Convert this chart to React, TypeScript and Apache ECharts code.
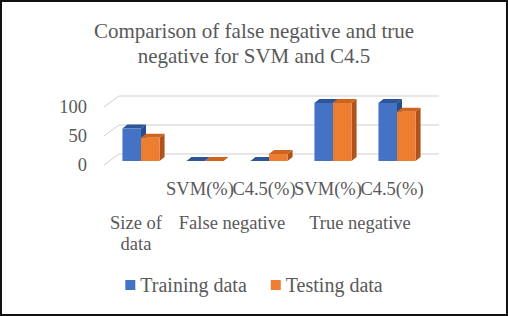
import React, { useEffect, useRef } from "react";
import * as echarts from "echarts";

const categories = ["", "SVM(%)", "C4.5(%)", "SVM(%)", "C4.5(%)"];
const groupLabels = ["Size of data", "False negative", "True negative"];
const groupSpans = [1, 2, 2];
const trainingData = [56, 0, 0, 100, 100];
const testingData = [40, 0, 12, 100, 85];
const yTicks = [0, 50, 100];
const seriesNames = ["Training data", "Testing data"];

const FONT = "'Liberation Serif', 'Times New Roman', serif";
const TEXT = "#595959";
const WALL_DX = 15;
const WALL_DY = -11;
const BAR_SHIFT_X = 5;
const BAR_SHIFT_Y = -4;
const BAR_DX = 5;
const BAR_DY = -4;

const palettes = [
  { front: "#4472C4", top: "#2E5597", side: "#2A4E8C" },
  { front: "#ED7D31", top: "#CF6420", side: "#B0521A" },
];

function barRenderer(slot: number) {
  const pal = palettes[slot];
  return (params: any, api: any) => {
    const idx = api.value(0);
    const val = api.value(1);
    const base = api.coord([idx, 0]);
    const top = api.coord([idx, val]);
    const band = api.size([1, 0])[0];
    const w = band * 0.29;
    const cx = base[0] + BAR_SHIFT_X;
    const x0 = slot === 0 ? cx - w : cx;
    const x1 = x0 + w;
    const yb = base[1] + BAR_SHIFT_Y;
    const yt = top[1] + BAR_SHIFT_Y;
    return {
      type: "group",
      children: [
        {
          type: "polygon",
          shape: { points: [[x1, yb], [x1 + BAR_DX, yb + BAR_DY], [x1 + BAR_DX, yt + BAR_DY], [x1, yt]] },
          style: { fill: pal.side },
        },
        {
          type: "polygon",
          shape: { points: [[x0, yt], [x1, yt], [x1 + BAR_DX, yt + BAR_DY], [x0 + BAR_DX, yt + BAR_DY]] },
          style: { fill: pal.top },
        },
        {
          type: "rect",
          shape: { x: x0, y: yt, width: w, height: Math.max(yb - yt, 0) },
          style: { fill: pal.front },
        },
      ],
    };
  };
}

function wallRenderer(params: any, api: any) {
  const cs = params.coordSys;
  const y = api.coord([0, api.value(1)])[1];
  const x = cs.x;
  return {
    type: "polyline",
    shape: {
      points: [
        [x, y],
        [x + WALL_DX, y + WALL_DY],
        [x + cs.width + WALL_DX, y + WALL_DY],
      ],
    },
    style: { stroke: "#CFCFCF", lineWidth: 1, fill: null },
  };
}

const groupCenters: number[] = [];
{
  let start = 0;
  groupSpans.forEach((s) => {
    groupCenters.push(start + s / 2);
    start += s;
  });
}

function wrapGroup(label: string, span: number) {
  if (span > 1) return label;
  const words = label.split(" ");
  const lines: string[] = [];
  for (let i = 0; i < words.length; i += 2) lines.push(words.slice(i, i + 2).join(" "));
  return lines.join("\n");
}

export default function App() {
  const ref = useRef<HTMLDivElement>(null);
  useEffect(() => {
    if (!ref.current) return;
    const chart = echarts.init(ref.current, null, { renderer: "svg" });
    chart.setOption({
      animation: false,
      backgroundColor: "#FFFFFF",
      textStyle: { fontFamily: FONT },
      title: {
        text: "Comparison of false negative and true\nnegative for SVM and C4.5",
        left: "center",
        top: 18,
        padding: 0,
        textStyle: {
          fontFamily: FONT,
          fontSize: 21,
          fontWeight: "normal",
          color: TEXT,
          lineHeight: 25,
        },
      },
      legend: {
        data: seriesNames,
        left: "center",
        top: 270,
        icon: "rect",
        itemWidth: 10,
        itemHeight: 10,
        itemGap: 24,
        textStyle: { fontFamily: FONT, fontSize: 20, color: TEXT },
      },
      grid: { left: 104, right: 84, top: 107, height: 58, containLabel: false },
      xAxis: [
        {
          type: "category",
          data: categories,
          axisLine: { show: false },
          axisTick: { show: false },
          splitLine: { show: false },
          axisLabel: {
            interval: 0,
            margin: 14,
            fontFamily: FONT,
            fontSize: 18.5,
            color: TEXT,
          },
        },
        {
          type: "value",
          min: 0,
          max: categories.length,
          position: "bottom",
          axisLine: { show: false },
          axisTick: { show: false },
          splitLine: { show: false },
          axisLabel: {
            customValues: groupCenters,
            margin: 47,
            fontFamily: FONT,
            fontSize: 18.5,
            color: TEXT,
            lineHeight: 21,
            formatter: (v: number) => {
              const i = groupCenters.findIndex((c) => Math.abs(c - v) < 1e-6);
              return i < 0 ? "" : wrapGroup(groupLabels[i], groupSpans[i]);
            },
          },
        },
      ],
      yAxis: {
        type: "value",
        min: 0,
        max: 100,
        interval: 50,
        axisLine: { show: false },
        axisTick: { show: false },
        splitLine: { show: false },
        axisLabel: { margin: 17, fontFamily: FONT, fontSize: 18.5, color: TEXT },
      },
      series: [
        {
          type: "custom",
          name: "wall",
          renderItem: wallRenderer,
          data: yTicks.map((t) => [0, t]),
          encode: { x: 0, y: 1 },
          clip: false,
          silent: true,
          z: 1,
        },
        {
          type: "custom",
          name: seriesNames[0],
          renderItem: barRenderer(0),
          data: trainingData.map((v, i) => [i, v]),
          encode: { x: 0, y: 1 },
          itemStyle: { color: palettes[0].front },
          clip: false,
          z: 2,
        },
        {
          type: "custom",
          name: seriesNames[1],
          renderItem: barRenderer(1),
          data: testingData.map((v, i) => [i, v]),
          encode: { x: 0, y: 1 },
          itemStyle: { color: palettes[1].front },
          clip: false,
          z: 3,
        },
      ],
    });
    return () => chart.dispose();
  }, []);
  return (
    <div style={{ position: "fixed", left: 0, top: 0, width: 508, height: 316, background: "#fff" }}>
      <div ref={ref} style={{ position: "absolute", left: 0, top: 0, width: 508, height: 316 }} />
      <div
        style={{
          position: "absolute",
          left: 0,
          top: 0,
          width: 508,
          height: 316,
          boxSizing: "border-box",
          border: "2px solid #111",
          pointerEvents: "none",
        }}
      />
    </div>
  );
}
